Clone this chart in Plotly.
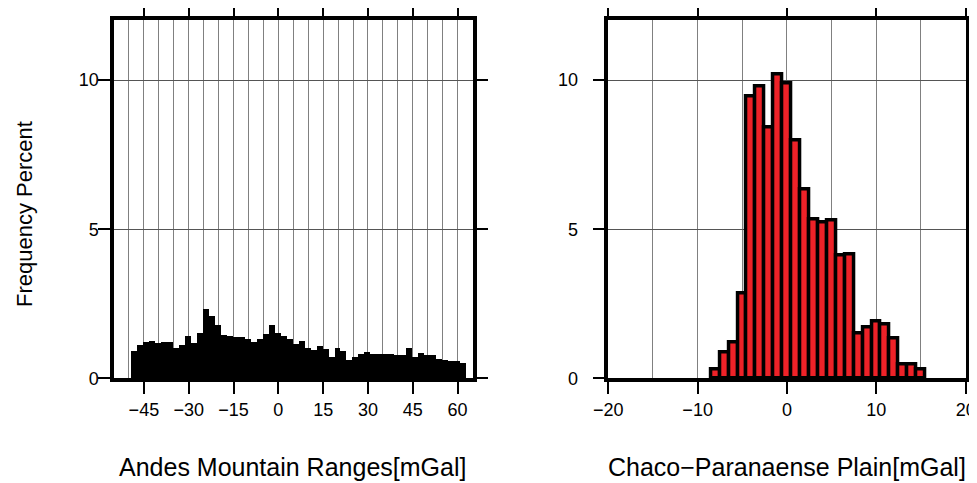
import numpy as np
import plotly.graph_objects as go
from plotly.subplots import make_subplots

# left panel: Andes, 2 mGal bins starting near -49
andes_pct = [0.9, 1.1, 1.2, 1.25, 1.18, 1.2, 1.2, 1.0, 1.1, 1.4, 1.16, 1.5, 2.3, 2.06,
             1.78, 1.44, 1.39, 1.37, 1.37, 1.31, 1.2, 1.3, 1.47, 1.78, 1.5, 1.41, 1.31, 1.13,
             1.24, 1.0, 0.92, 1.07, 0.95, 0.7, 1.0, 0.9, 0.6, 0.71, 0.8, 0.88, 0.8, 0.8,
             0.8, 0.8, 0.77, 0.77, 1.0, 0.7, 0.83, 0.77, 0.75, 0.63, 0.6, 0.55, 0.58, 0.5]
andes_bins = np.arange(-48.2, 62.0, 2)

# right panel: Chaco-Paranaense, 1 mGal bins
chaco_bins = list(range(-8, 16))
chaco_pct = [0.28, 0.88, 1.2, 2.85, 9.45, 9.8, 8.4, 10.2, 9.88, 7.96, 6.34, 5.33,
             5.22, 5.28, 4.11, 4.14, 1.51, 1.7, 1.92, 1.81, 1.34, 0.48, 0.48, 0.28]

andes_ticks = [-45, -30, -15, 0, 15, 30, 45, 60]
chaco_ticks = [-20, -10, 0, 10, 20]
y_ticks = [0, 5, 10]

FONT = "Liberation Sans, Arial, Helvetica, sans-serif"

fig = make_subplots(rows=1, cols=2)

fig.add_trace(go.Bar(x=andes_bins, y=andes_pct, width=2,
                     marker=dict(color="black", line=dict(width=0))), row=1, col=1)
fig.add_trace(go.Bar(x=chaco_bins, y=chaco_pct, width=1,
                     marker=dict(color="#ee2228", line=dict(color="black", width=3.5))), row=1, col=2)

axis_common = dict(showline=True, linewidth=3.5, linecolor="black", mirror="ticks",
                   ticks="outside", ticklen=12, tickwidth=2, tickcolor="black",
                   zeroline=False, showgrid=True, gridwidth=1, automargin=False,
                   tickfont=dict(size=18, color="black", family=FONT))

fig.update_xaxes(axis_common)
fig.update_yaxes(axis_common)

# page body adds an 8px offset, figure is 969x475
fig.update_xaxes(range=[-55, 65], tickvals=andes_ticks, gridcolor="#808080",
                 minor=dict(dtick=5, tick0=0, showgrid=True, gridcolor="#808080", ticklen=0),
                 domain=[0.1094, 0.4794], row=1, col=1)
fig.update_xaxes(range=[-20, 20], tickvals=chaco_ticks, gridcolor="#808080",
                 minor=dict(dtick=5, tick0=0, showgrid=True, gridcolor="#808080", ticklen=0),
                 domain=[0.6195, 0.9883], row=1, col=2)
fig.update_yaxes(range=[0, 12], tickvals=y_ticks, gridcolor="#555555", ticklabelstandoff=-4,
                 domain=[0.2204, 0.9737], row=1, col=1)
fig.update_yaxes(range=[0, 12], tickvals=y_ticks, gridcolor="#555555", ticklabelstandoff=11,
                 domain=[0.2204, 0.9737], row=1, col=2)

fig.add_annotation(text="Frequency Percent", x=0.0165, y=0.5663, xref="paper", yref="paper",
                   xanchor="center", yanchor="middle",
                   textangle=-90, showarrow=False, font=dict(size=22, family=FONT, color="black"))
fig.add_annotation(text="Andes Mountain Ranges[mGal]", x=0.2941, y=0.0337, xref="paper", yref="paper",
                   xanchor="center", yanchor="middle",
                   showarrow=False, font=dict(size=25, family=FONT, color="black"))
fig.add_annotation(text="Chaco\u2212Paranaense Plain[mGal]", x=0.8039, y=0.0337, xref="paper", yref="paper",
                   xanchor="center", yanchor="middle",
                   showarrow=False, font=dict(size=25, family=FONT, color="black"))

fig.update_layout(width=969, height=475, margin=dict(l=0, r=0, t=0, b=0),
                  showlegend=False, bargap=0, plot_bgcolor="white", paper_bgcolor="white")

fig.write_html("out.html")
